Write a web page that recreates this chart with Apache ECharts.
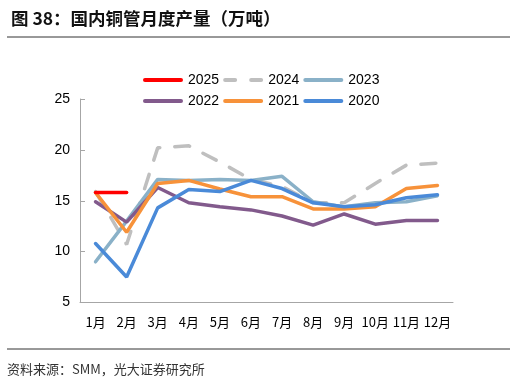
<!DOCTYPE html>
<html><head><meta charset="utf-8">
<script src="https://cdn.jsdelivr.net/npm/echarts@6/dist/echarts.min.js"></script>
<style>html,body{margin:0;padding:0;background:#fff;}#c{width:516px;height:382px;}</style>
</head><body><div id="c"></div>
<script>
var months = ['1月','2月','3月','4月','5月','6月','7月','8月','9月','10月','11月','12月'];
var y2025 = [15.8, 15.8];
var y2024 = [15.9, 10.7, 20.2, 20.4, 18.8, 17.1, 16.4, 14.8, 14.8, 16.7, 18.5, 18.7];
var y2023 = [9.0, 13.0, 17.1, 17.0, 17.1, 17.0, 17.4, 14.9, 14.4, 14.8, 14.9, 15.5];
var y2022 = [14.9, 12.9, 16.3, 14.8, 14.4, 14.1, 13.5, 12.6, 13.7, 12.7, 13.05, 13.05];
var y2021 = [15.8, 11.9, 16.7, 17.0, 16.15, 15.4, 15.4, 14.2, 14.2, 14.4, 16.2, 16.5];
var y2020 = [10.8, 7.5, 14.3, 16.1, 15.9, 17.0, 16.2, 14.8, 14.4, 14.6, 15.3, 15.6];
var yTicks = [5, 10, 15, 20, 25];

var chart = echarts.init(document.getElementById('c'), null, {renderer:'canvas'});
function ser(name, data, color, dash) {
  return {name:name, type:'line', data:data, symbol:'none', smooth:false,
    lineStyle:{color:color, width:3.5, type: dash ? [15,15] : 'solid', cap:'round'},
    itemStyle:{color:color}, z: name==='2025'?10:5};
}
var solidIcon = 'path://M2,0H38A2,2,0,0,1,38,4H2A2,2,0,0,1,2,0Z';
var dashIcon = 'path://M2,0H12A2,2,0,0,1,12,4H2A2,2,0,0,1,2,0Z M28,0H38A2,2,0,0,1,38,4H28A2,2,0,0,1,28,0Z';
var legendCommon = {itemWidth:40, itemHeight:4, itemGap:4, textStyle:{fontSize:14, color:'#000', fontFamily:'Liberation Sans, Arial'}, left:138};
chart.setOption({
  animation:false,
  title:{text:'图 38：国内铜管月度产量（万吨）', left:6, top:5, textStyle:{fontSize:17.5, fontWeight:'bold', color:'#111', fontFamily:'Noto Sans CJK SC'}},
  graphic:[
    {type:'line', shape:{x1:7,y1:37,x2:510,y2:37}, style:{stroke:'#333', lineWidth:1}},
    {type:'line', shape:{x1:7,y1:349,x2:510,y2:349}, style:{stroke:'#333', lineWidth:1}},
    {type:'text', left:7, top:363, style:{text:'资料来源：SMM，光大证券研究所', fontSize:13, fill:'#333', fontFamily:'Noto Sans CJK SC'}}
  ],
  legend:[
    Object.assign({top:68, data:[{name:'2025',icon:solidIcon},{name:'2024',icon:dashIcon},{name:'2023',icon:solidIcon}]}, legendCommon),
    Object.assign({top:89, data:[{name:'2022',icon:solidIcon},{name:'2021',icon:solidIcon},{name:'2020',icon:solidIcon}]}, legendCommon)
  ],
  grid:{left:80, right:63, top:99, bottom:79.5},
  xAxis:{type:'category', data:months, boundaryGap:true,
    axisLine:{lineStyle:{color:'#a6a6a6', width:1}},
    axisTick:{inside:true, length:5, lineStyle:{color:'#a6a6a6'}},
    axisLabel:{fontSize:13, color:'#000', margin:13, interval:0, fontFamily:'Noto Sans CJK SC'}},
  yAxis:{type:'value', min:yTicks[0], max:yTicks[yTicks.length-1], interval:5,
    axisLine:{show:true, lineStyle:{color:'#a6a6a6', width:1}},
    axisTick:{show:true, inside:true, length:5, lineStyle:{color:'#a6a6a6'}},
    splitLine:{show:false},
    axisLabel:{fontSize:14, color:'#000', margin:10, fontFamily:'Liberation Sans, Arial'}},
  series:[
    ser('2025', y2025, '#ff0000'),
    ser('2024', y2024, '#bfbfbf', true),
    ser('2023', y2023, '#8ab1c8'),
    ser('2022', y2022, '#825a8c'),
    ser('2021', y2021, '#f7923a'),
    ser('2020', y2020, '#4a8ad8')
  ]
});
</script></body></html>
